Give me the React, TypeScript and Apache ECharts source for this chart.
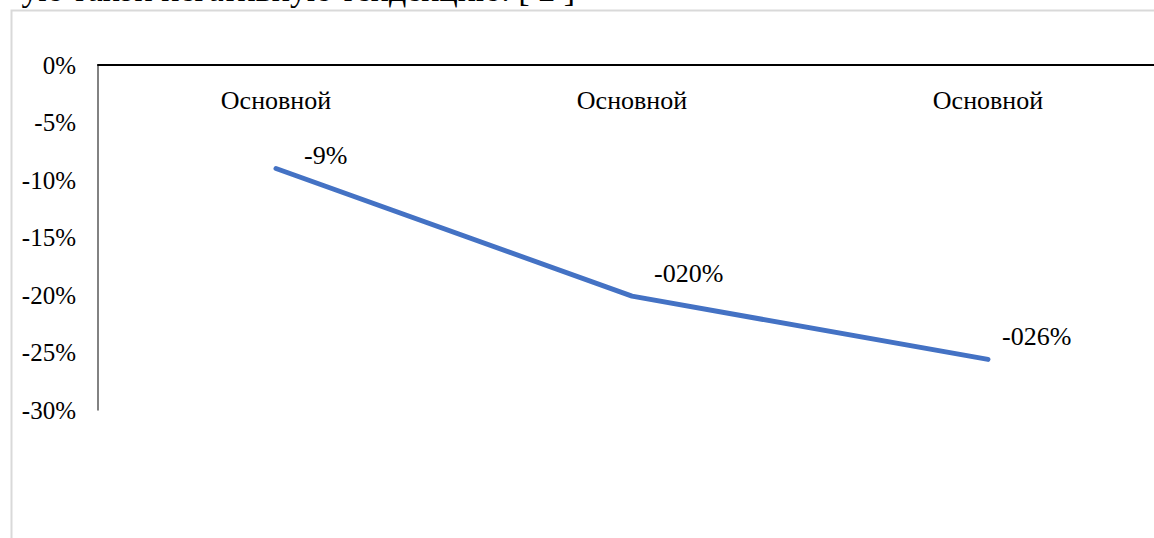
import React, { useEffect, useRef } from "react";
import * as echarts from "echarts";

const categories = ["Основной", "Основной", "Основной"];
const values = [-9, -20.1, -25.6];
const valueLabels = ["-9%", "-020%", "-026%"];
const yTicks = { min: -30, max: 0, interval: 5 };
const topCaption = "ую такой негативную тенденцию. [ 2 ]";

const labelOffsets: [number, number][] = [
  [22, -13],
  [16, -23],
  [8, -23],
];

const FONT = "Liberation Serif";

export default function App() {
  const ref = useRef<HTMLDivElement>(null);
  useEffect(() => {
    if (!ref.current) return;
    const chart = echarts.init(ref.current, undefined, { renderer: "svg" });
    chart.setOption({
      animation: false,
      backgroundColor: "#ffffff",
      textStyle: { fontFamily: FONT },
      graphic: [
        {
          type: "rect",
          shape: { x: 11.5, y: 10.5, width: 1300, height: 700 },
          style: { fill: "none", stroke: "#d9d9d9", lineWidth: 2 },
          silent: true,
          z: -1,
        },
        {
          type: "text",
          x: 575,
          y: -11,
          style: {
            text: topCaption,
            fontSize: 34,
            fontFamily: FONT,
            fill: "#000",
            align: "right",
            verticalAlign: "middle",
          },
        },
      ],
      grid: { left: 98, right: 4, top: 65, bottom: 128, containLabel: false },
      xAxis: {
        type: "category",
        position: "top",
        data: categories,
        boundaryGap: true,
        axisLine: { onZero: false, lineStyle: { color: "#000", width: 2 } },
        axisTick: { show: false },
        axisLabel: {
          inside: true,
          color: "#000",
          fontSize: 26,
          fontFamily: FONT,
          margin: 22,
        },
        splitLine: { show: false },
      },
      yAxis: {
        type: "value",
        min: yTicks.min,
        max: yTicks.max,
        interval: yTicks.interval,
        axisLine: { show: true, lineStyle: { color: "#595959", width: 1.5 } },
        axisTick: { show: false },
        splitLine: { show: false },
        axisLabel: {
          color: "#000",
          fontSize: 25,
          fontFamily: FONT,
          margin: 22,
          formatter: (v: number) => `${v}%`,
        },
      },
      series: [
        {
          type: "line",
          data: values.map((v, i) => ({
            value: v,
            label: { offset: labelOffsets[i] },
          })),
          showSymbol: true,
          symbol: "circle",
          symbolSize: 2,
          itemStyle: { color: "rgba(0,0,0,0)", borderWidth: 0 },
          label: {
            show: true,
            position: "right",
            formatter: (p: any) => valueLabels[p.dataIndex],
            color: "#000",
            fontSize: 26,
            fontFamily: FONT,
          },
          lineStyle: { color: "#4472C4", width: 5, cap: "round", join: "round" },
        },
      ],
    });
    return () => chart.dispose();
  }, []);
  return (
    <div
      style={{
        position: "fixed",
        left: 0,
        top: 0,
        width: 1154,
        height: 538,
        overflow: "hidden",
        background: "#fff",
      }}
    >
      <div ref={ref} style={{ width: 1170, height: 538 }} />
    </div>
  );
}
